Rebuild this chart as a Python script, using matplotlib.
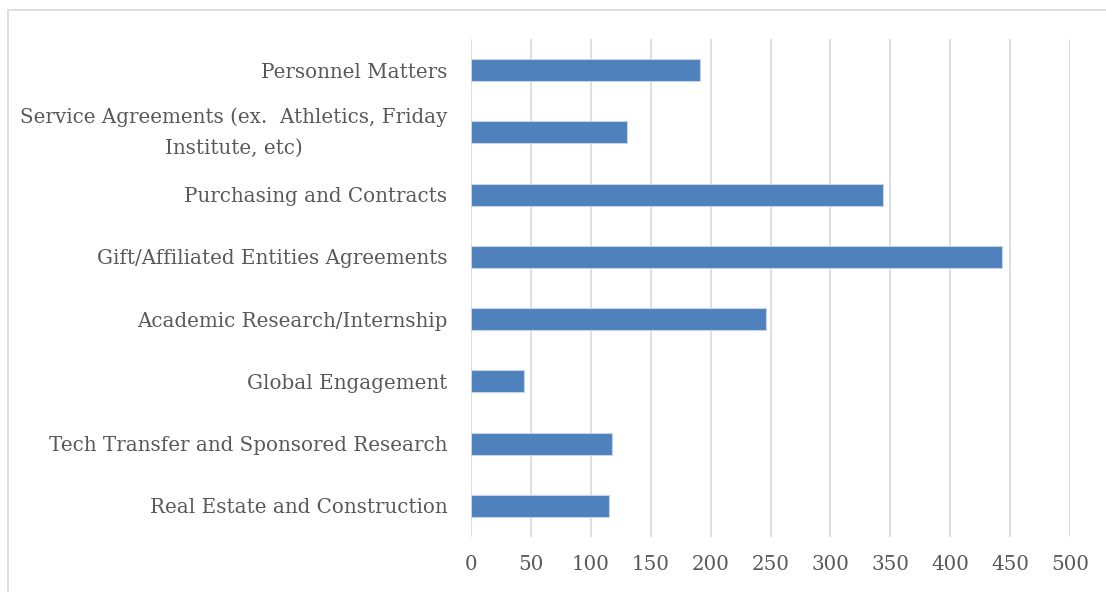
import numpy as np
import matplotlib
matplotlib.use('Agg')
import matplotlib.pyplot as plt
from matplotlib.patches import Rectangle

# categories listed bottom -> top
categories = ['Real Estate and Construction', 'Tech Transfer and Sponsored Research',
              'Global Engagement', 'Academic Research/Internship',
              'Gift/Affiliated Entities Agreements', 'Purchasing and Contracts',
              'Service Agreements (ex.  Athletics, Friday\nInstitute, etc)',
              'Personnel Matters']
counts = [115, 118, 44, 246, 443, 344, 130, 191]
x_ticks = [0, 50, 100, 150, 200, 250, 300, 350, 400, 450, 500]

TXT = '#595959'
BAR = '#4f81bd'
GRID = '#d9d9d9'
plt.rcParams['font.family'] = ['DejaVu Serif']

fig = plt.figure(figsize=(11.06, 5.92), dpi=100)
fig.patches.append(Rectangle((8 / 1106, -0.1), 1.2, 1.1 - 10 / 592, transform=fig.transFigure,
                             fill=False, edgecolor=GRID, linewidth=1.2))
ax = fig.add_axes([471 / 1106, 1 - 537 / 592, (1070 - 471) / 1106, (537 - 39) / 592])

y = np.arange(len(categories))
ax.barh(y, counts, height=0.35, color=BAR, edgecolor='#c5d4ea', linewidth=0.8, zorder=3)
ax.set_xlim(0, 500)
ax.set_ylim(-0.5, len(categories) - 0.5)
ax.set_xticks(x_ticks)
ax.set_xticklabels([str(t) for t in x_ticks])
ax.set_yticks(y)
ax.set_yticklabels(categories)
for lab in ax.get_yticklabels():
    if '\n' in lab.get_text():
        lab.set_multialignment('center')
        lab.set_linespacing(1.75)
        lab.set_verticalalignment('center')
ax.grid(axis='x', color=GRID, linewidth=1.2, zorder=0)
for s in ax.spines.values():
    s.set_visible(False)
ax.tick_params(axis='both', length=0, colors=TXT, labelsize=14.3)
ax.tick_params(axis='y', pad=17)
ax.tick_params(axis='x', pad=13)

fig.savefig('out.png', dpi=100)
